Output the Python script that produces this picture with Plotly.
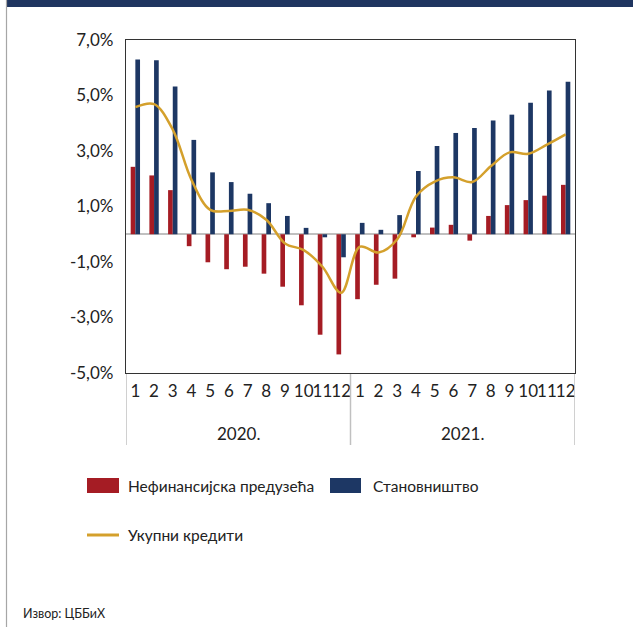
import plotly.graph_objects as go

# ---- data ----
years = ["2020.", "2021."]
months = [str(m) for m in range(1, 13)]
nonfin = [2.43, 2.12, 1.59, -0.43, -1.01, -1.26, -1.17, -1.42, -1.89, -2.56, -3.62, -4.33,
          -2.34, -1.82, -1.60, -0.11, 0.24, 0.34, -0.23, 0.66, 1.05, 1.23, 1.39, 1.78]
households = [6.30, 6.27, 5.32, 3.40, 2.23, 1.88, 1.46, 1.12, 0.66, 0.23, -0.11, -0.83,
              0.41, 0.16, 0.69, 2.28, 3.18, 3.65, 3.83, 4.10, 4.31, 4.74, 5.18, 5.50]
total = [4.58, 4.69, 3.77, 1.96, 0.88, 0.84, 0.88, 0.52, -0.33, -0.57, -1.17, -2.11,
         -0.45, -0.66, -0.18, 1.36, 1.90, 2.05, 1.88, 2.45, 2.95, 2.90, 3.23, 3.60]
ytickvals = [-5, -3, -1, 1, 3, 5, 7]
yticktext = ["-5,0%", "-3,0%", "-1,0%", "1,0%", "3,0%", "5,0%", "7,0%"]
names = ["Нефинансијска предузећа", "Становништво", "Укупни кредити"]
source = "Извор: ЦББиХ"

RED = "#A51C24"
NAVY = "#1D3764"
GOLD = "#D4A02C"
FONT = "Lato"

xkeys = [f"{y} {m}" for y in years for m in months]
xlabels = [m for _ in years for m in months]

fig = go.Figure()
fig.add_trace(go.Bar(x=xkeys, y=nonfin, name=names[0], marker=dict(color=RED, line=dict(width=0)),
                     showlegend=False))
fig.add_trace(go.Bar(x=xkeys, y=households, name=names[1], marker=dict(color=NAVY, line=dict(width=0)),
                     showlegend=False))
fig.add_trace(go.Scatter(x=xkeys, y=total, name=names[2], mode="lines",
                         line=dict(color=GOLD, width=2.5, shape="spline", smoothing=1.0),
                         showlegend=False))

W, H = 633, 627
L, R, T, B = 126, 58, 40, 254
pw, ph = W - L - R, H - T - B


def px(x):
    return (x - L) / pw


def py(y):
    return (H - B - y) / ph


n = len(months)
shapes = [
    dict(type="rect", xref="paper", yref="paper", x0=px(6.5), x1=px(640), y0=py(7), y1=py(-2),
         fillcolor="#1F3560", line=dict(width=0), layer="above"),
    dict(type="line", xref="paper", yref="paper", x0=px(6.5), x1=px(6.5), y0=py(-2), y1=py(630),
         line=dict(color="#A6A6A6", width=1.2)),
    dict(type="rect", xref="paper", yref="paper", x0=px(87), x1=px(119), y0=py(493), y1=py(478),
         fillcolor=RED, line=dict(width=0)),
    dict(type="rect", xref="paper", yref="paper", x0=px(330), x1=px(361), y0=py(493), y1=py(478),
         fillcolor=NAVY, line=dict(width=0)),
    dict(type="line", xref="paper", yref="paper", x0=px(87), x1=px(119), y0=py(535), y1=py(535),
         line=dict(color=GOLD, width=3)),
]
# group dividers below the axis
for k in range(len(years) + 1):
    xd = k * n - 0.5
    shapes.append(dict(type="line", xref="x", yref="paper", x0=xd, x1=xd, y0=py(374), y1=py(445),
                       line=dict(color="#C0C0C0", width=1.5)))

annotations = [
    dict(text=names[0], xref="paper", yref="paper", x=px(126), y=py(486), xanchor="left",
         yanchor="middle", showarrow=False, font=dict(size=15.5, color="#222", family=FONT)),
    dict(text=names[1], xref="paper", yref="paper", x=px(371), y=py(486), xanchor="left",
         yanchor="middle", showarrow=False, font=dict(size=15.5, color="#222", family=FONT)),
    dict(text=names[2], xref="paper", yref="paper", x=px(126), y=py(535), xanchor="left",
         yanchor="middle", showarrow=False, font=dict(size=15.5, color="#222", family=FONT)),
    dict(text=source, xref="paper", yref="paper", x=px(21), y=py(613), xanchor="left",
         yanchor="middle", showarrow=False, font=dict(size=12.5, color="#222", family=FONT)),
]
for k, yr in enumerate(years):
    annotations.append(dict(text=yr, xref="x", yref="paper", x=k * n + (n - 1) / 2, y=py(433),
                            xanchor="center", yanchor="middle", showarrow=False,
                            font=dict(size=17, color="#222", family=FONT)))

fig.update_layout(
    width=W, height=H,
    margin=dict(l=L, r=R, t=T, b=B, pad=0),
    paper_bgcolor="white", plot_bgcolor="white",
    barmode="group", bargap=0.5, bargroupgap=0,
    font=dict(family=FONT, size=17, color="#222"),
    shapes=shapes, annotations=annotations,
    xaxis=dict(type="category", showgrid=False, showline=True, linecolor="#333", linewidth=1.3,
               mirror=True, ticks="", tickmode="array", tickvals=xkeys, ticktext=xlabels,
               tickangle=0, tickfont=dict(size=17, family=FONT, color="#222"),
               ticklabelstandoff=2, range=[-0.5, len(xkeys) - 0.5]),
    yaxis=dict(range=[-5, 7], tickvals=ytickvals, ticktext=yticktext, showgrid=False,
               showline=True, linecolor="#333", linewidth=1.3, mirror=True, ticks="",
               zeroline=True, zerolinecolor="#C0C0C0", zerolinewidth=1.8,
               tickfont=dict(size=17, family=FONT, color="#222"), ticklabelstandoff=8),
)

fig.write_html("out.html", config={"displayModeBar": False},
               post_script="document.body.style.margin='0';document.body.style.overflow='hidden';")
